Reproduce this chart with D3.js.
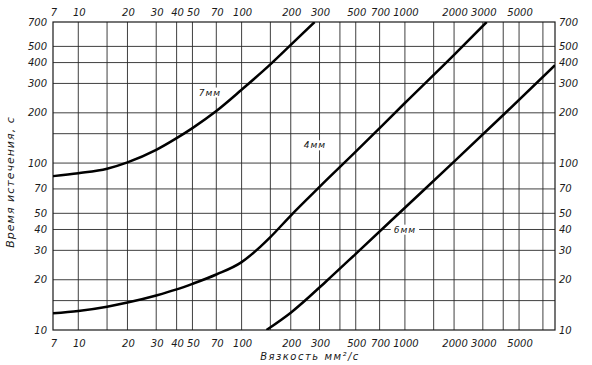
<!DOCTYPE html>
<html><head><meta charset="utf-8">
<script src="https://cdn.jsdelivr.net/npm/d3@7/dist/d3.min.js"></script>
<style>
html,body{margin:0;padding:0;background:#fff;}
svg{display:block;}
text{font-family:"DejaVu Sans",sans-serif;font-style:italic;fill:#1a1a1a;}
</style></head>
<body>
<svg id="c" width="592" height="365"></svg>
<script>
// ---- data ----
const xTickLabels = [7,10,20,30,40,50,70,100,200,300,500,700,1000,2000,3000,5000];
const xGrid = [10,15,20,30,40,50,70,100,150,200,300,400,500,700,1000,1500,2000,3000,4000,5000,7000];
const yTickLabels = [10,20,30,40,50,70,100,200,300,400,500,700];
const yGrid = [15,20,30,40,50,70,100,150,200,300,400,500];

const visc7 = [7, 10, 15, 20, 30, 40, 50, 70, 100, 150, 200, 280];
const time7 = [83.5, 87, 92.5, 101, 120, 141, 162, 205, 275, 390, 510, 700];

const visc4 = [7, 10, 15, 20, 30, 40, 50, 70, 100, 130, 150, 200, 300, 500, 1000, 2000, 3168];
const time4 = [12.6, 13.0, 13.8, 14.6, 16.1, 17.5, 18.9, 21.5, 25.5, 31.5, 36, 48.5, 72, 117, 229, 445, 700];

const visc6 = [142, 200, 330, 500, 1000, 2000, 4000, 8300];
const time6 = [10, 12.7, 19.6, 28.6, 54, 102, 194, 386];

const curveLabels = [
  {text:"7мм", v:64, t:265},
  {text:"4мм", v:281, t:128},
  {text:"6мм", v:1000, t:40}
];

const xTitle = "Вязкость мм²/с";
const yTitle = "Время истечения, с";

// ---- chart ----
const svg = d3.select("#c");
const L = 53, R = 555, T = 22, B = 330;
const x = d3.scaleLog().domain([7, 8300]).range([L, R]);
const y = d3.scaleLog().domain([10, 700]).range([B, T]);

const g = svg.append("g");
g.selectAll(".vg").data(xGrid).enter().append("line")
  .attr("x1", d => x(d)).attr("x2", d => x(d)).attr("y1", T).attr("y2", B)
  .attr("stroke", "#2a2a2a").attr("stroke-width", 0.9);
g.selectAll(".hg").data(yGrid).enter().append("line")
  .attr("y1", d => y(d)).attr("y2", d => y(d)).attr("x1", L).attr("x2", R)
  .attr("stroke", "#2a2a2a").attr("stroke-width", 0.9);
g.append("rect").attr("x", L).attr("y", T).attr("width", R - L).attr("height", B - T)
  .attr("fill", "none").attr("stroke", "#1a1a1a").attr("stroke-width", 1.2);

svg.append("clipPath").attr("id", "pc").append("rect")
  .attr("x", L).attr("y", T).attr("width", R - L).attr("height", B - T);
const line = d3.line().x(d => x(d[0])).y(d => y(d[1])).curve(d3.curveMonotoneX);
[[visc7, time7], [visc4, time4], [visc6, time6]].forEach(([vs, ts]) => {
  svg.append("path").datum(vs.map((v, i) => [v, ts[i]]))
    .attr("d", line).attr("fill", "none").attr("stroke", "#000")
    .attr("stroke-width", 2.5).attr("clip-path", "url(#pc)");
});

curveLabels.forEach(c => {
  const gx = svg.append("g");
  const tx = gx.append("text").attr("x", x(c.v)).attr("y", y(c.t))
    .attr("text-anchor", "middle").attr("dy", "0.35em")
    .attr("font-size", 9).attr("letter-spacing", 1).text(c.text);
  const bb = tx.node().getBBox();
  gx.insert("rect", "text").attr("x", bb.x - 3).attr("y", bb.y).attr("width", bb.width + 6)
    .attr("height", bb.height).attr("fill", "#fff");
});

svg.selectAll(".xt").data(xTickLabels).enter().append("text")
  .attr("x", d => x(d) + 1).attr("y", 16).attr("text-anchor", "middle")
  .attr("font-size", 10).text(d => d);
svg.selectAll(".xb").data(xTickLabels).enter().append("text")
  .attr("x", d => x(d) + 1).attr("y", 347).attr("text-anchor", "middle")
  .attr("font-size", 10).text(d => d);

svg.selectAll(".yl").data(yTickLabels).enter().append("text")
  .attr("x", 47).attr("y", d => y(d)).attr("dy", "0.35em").attr("text-anchor", "end")
  .attr("font-size", 10).text(d => d);
svg.selectAll(".yr").data(yTickLabels).enter().append("text")
  .attr("x", 559).attr("y", d => y(d)).attr("dy", "0.35em").attr("text-anchor", "start")
  .attr("font-size", 10).text(d => d);

svg.append("text").attr("x", 310).attr("y", 360).attr("text-anchor", "middle")
  .attr("font-size", 10).attr("letter-spacing", 1.5).text(xTitle);
svg.append("text").attr("transform", "translate(14,182) rotate(-90)")
  .attr("text-anchor", "middle").attr("font-size", 11).attr("letter-spacing", 1)
  .text(yTitle);
</script>
</body></html>
